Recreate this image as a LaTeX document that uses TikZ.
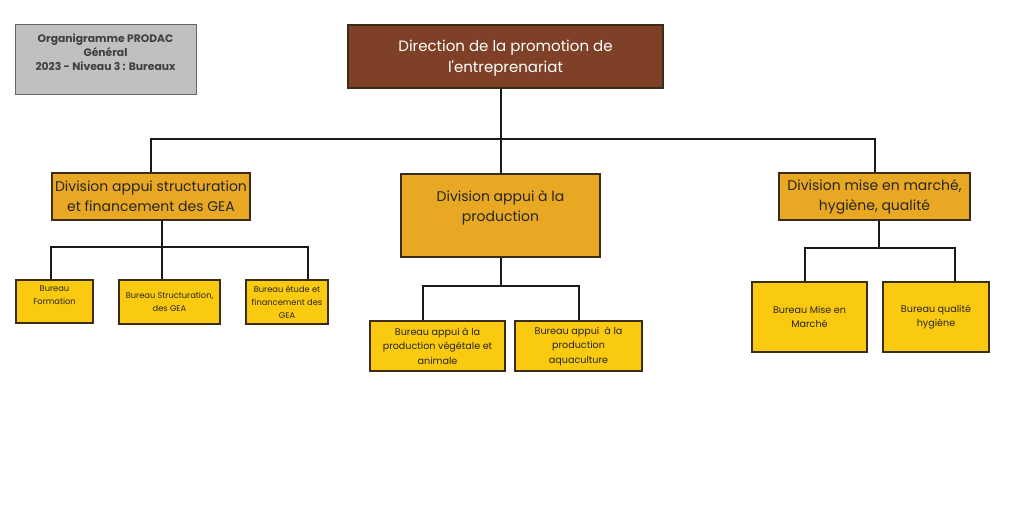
\documentclass[tikz,border=0pt]{standalone}
\usepackage{fontspec}
\setmainfont{Poppins}
\usepackage{tikz}
\definecolor{dirbrown}{HTML}{7E4128}
\definecolor{divorange}{HTML}{E9A823}
\definecolor{buryellow}{HTML}{FACA10}
\definecolor{titlegray}{HTML}{C0C0C0}
\definecolor{boxline}{HTML}{3A2C16}
\tikzstyle{box} = [draw=boxline, line width=1.1pt, rectangle, align=center, inner sep=0pt, text=black!85]
\tikzstyle{divbox} = [box, fill=divorange, font=\fontsize{14}{20}\selectfont]
\tikzstyle{burbox} = [box, fill=buryellow, font=\fontsize{9.6}{14.5}\selectfont]
\tikzstyle{smallbur} = [burbox, font=\fontsize{8.3}{13}\selectfont]
\tikzstyle{link} = [line width=2pt, black!90]

\begin{document}
\begin{tikzpicture}[yscale=-1]
			\useasboundingbox[fill=white] (0pt,0pt) rectangle (1024pt,512pt);
			% title
			\node[draw=black!60, line width=1pt, fill=titlegray, minimum width=181pt, minimum height=70pt, text depth=13pt, align=center, font=\fontsize{10.8}{14}\selectfont\bfseries, text=black!75] (title) at (105.5pt,59pt) {Organigramme PRODAC\\Général\\2023 - Niveau 3 : Bureaux};
			% direction
			\node[box, fill=dirbrown, text=white, minimum width=315pt, minimum height=63pt, text depth=0pt, font=\fontsize{15}{21}\selectfont] (dir) at (505.5pt,56.5pt) {Direction de la promotion de\\l\textquotesingle entreprenariat};
			% divisions
			\node[divbox, minimum width=198pt, minimum height=47pt] (div1) at (151pt,196.5pt) {Division appui structuration\\et financement des GEA};
			\node[divbox, minimum width=199pt, minimum height=83pt, text depth=18pt] (div2) at (500.5pt,215.5pt) {Division appui à la\\production};
			\node[divbox, minimum width=191pt, minimum height=47pt] (div3) at (874.5pt,196.5pt) {Division mise en marché,\\hygiène, qualité};
			% bureaux
			\node[smallbur, minimum width=77pt, minimum height=43pt, text depth=12pt] (bF) at (54.5pt,301.5pt) {Bureau\\Formation};
			\node[smallbur, minimum width=101pt, minimum height=44pt] (bS) at (169.5pt,302pt) {Bureau Structuration,\\des GEA};
			\node[smallbur, minimum width=82pt, minimum height=44pt] (bE) at (287pt,302pt) {Bureau étude et\\financement des\\GEA};
			\node[burbox, minimum width=135pt, minimum height=50pt] (bV) at (437.5pt,346pt) {Bureau appui à la\\production végétale et\\animale};
			\node[burbox, minimum width=127pt, minimum height=50pt] (bA) at (578.5pt,346pt) {Bureau appui\ \ à la\\production\\aquaculture};
			\node[burbox, minimum width=115pt, minimum height=70pt] (bM) at (809.5pt,317pt) {Bureau Mise en\\Marché};
			\node[burbox, minimum width=106pt, minimum height=70pt] (bQ) at (936pt,317pt) {Bureau qualité\\hygiène};
			% links
			\coordinate (bus0) at (500.5pt,139pt);
			\coordinate (bus1) at (162pt,247pt);
			\coordinate (bus2) at (500.5pt,286pt);
			\coordinate (bus3) at (879pt,248pt);
			\draw[link] (dir.south -| div2.north) -- (div2.north);
			\draw[link] (div1.north) |- (bus0) -| (div3.north);
			\draw[link] ([xshift=11pt]div1.south) -- (bus1);
			\draw[link] ([xshift=-3.5pt]bF.north) |- (bus1) -| ([xshift=21pt]bE.north);
			\draw[link] (bus1) -- ([xshift=-7.5pt]bS.north);
			\draw[link] (div2.south) -- (bus2);
			\draw[link] ([xshift=-14.5pt]bV.north) |- (bus2) -| (bA.north);
			\draw[link] ([xshift=4.5pt]div3.south) -- (bus3);
			\draw[link] ([xshift=-4.5pt]bM.north) |- (bus3) -| ([xshift=19pt]bQ.north);
		\end{tikzpicture}
\end{document}
